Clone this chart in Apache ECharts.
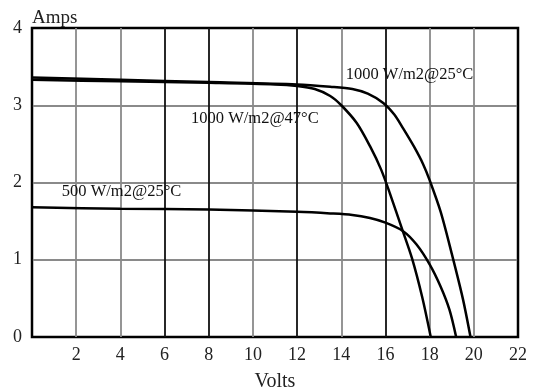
<!DOCTYPE html>
<html>
<head>
<meta charset="utf-8">
<script src="https://cdn.jsdelivr.net/npm/echarts@6/dist/echarts.min.js"></script>
<style>
  html, body { margin: 0; padding: 0; background: #fff; }
  #chart { width: 533px; height: 390px; }
</style>
</head>
<body>
<div id="chart"></div>
<script>
// I-V curves, [volts, amps]
var curve25 = [
  [0, 3.36], [4, 3.33], [8, 3.30], [12, 3.27], [13.5, 3.24], [14.5, 3.21],
  [15.2, 3.15], [15.9, 3.03], [16.4, 2.88], [16.8, 2.70], [17.3, 2.46],
  [17.7, 2.24], [18.0, 2.03], [18.5, 1.62], [19.0, 1.08], [19.5, 0.5], [19.85, 0]
];
var curve47 = [
  [0, 3.33], [4, 3.31], [8, 3.29], [11, 3.27], [12, 3.25], [12.8, 3.21],
  [13.5, 3.12], [14.0, 3.0], [14.7, 2.77], [15.3, 2.47], [15.8, 2.17],
  [16.2, 1.86], [16.75, 1.40], [17.2, 1.02], [17.66, 0.52], [18.05, 0]
];
var curve500 = [
  [0, 1.68], [4, 1.66], [8, 1.65], [12, 1.62], [13.5, 1.6], [14.5, 1.58],
  [15.3, 1.54], [16, 1.48], [16.8, 1.37], [17.4, 1.2], [18.0, 0.94],
  [18.5, 0.65], [18.9, 0.35], [19.2, 0]
];
var seriesNames = ["1000 W/m2@25°C", "1000 W/m2@47°C", "500 W/m2@25°C"];
// where each curve's caption starts, [volts, amps]
var captionAt = [[14.2, 3.39], [7.2, 2.83], [1.35, 1.88]];

var serif = "Liberation Serif";
var chart = echarts.init(document.getElementById("chart"));

function makeSeries(name, data, at) {
  return {
    name: name,
    type: "line",
    data: data,
    smooth: 0.3,
    symbol: "none",
    lineStyle: { color: "#000", width: 2.5 },
    markPoint: {
      symbol: "circle",
      symbolSize: 0,
      data: [{ coord: at }],
      label: {
        show: true,
        position: "right",
        distance: 0,
        formatter: name,
        color: "#111",
        fontFamily: serif,
        fontSize: 16.5
      }
    }
  };
}

var option = {
  animation: false,
  backgroundColor: "#fff",
  grid: {
    left: 32,
    right: 15,
    top: 28,
    bottom: 53,
    outerBoundsMode: "none",
    show: true,
    borderColor: "#000",
    borderWidth: 2.5
  },
  xAxis: {
    type: "value",
    min: 0,
    max: 22,
    interval: 2,
    name: "Volts",
    nameLocation: "middle",
    nameGap: 35,
    nameTextStyle: { fontFamily: serif, fontSize: 20, color: "#222" },
    axisLine: { show: false },
    axisTick: { show: false },
    axisLabel: {
      showMinLabel: false,
      margin: 9,
      fontFamily: serif,
      fontSize: 18,
      color: "#222"
    },
    splitLine: {
      show: true,
      lineStyle: {
        width: 1.8,
        color: ["#000", "#8a8a8a", "#8a8a8a", "#111", "#111", "#8a8a8a", "#111", "#8a8a8a", "#111", "#8a8a8a", "#8a8a8a", "#000"]
      }
    }
  },
  yAxis: {
    type: "value",
    min: 0,
    max: 4,
    interval: 1,
    name: "Amps",
    nameLocation: "end",
    nameGap: 0,
    nameTextStyle: { fontFamily: serif, fontSize: 19, color: "#222", align: "left" },
    axisLine: { show: false },
    axisTick: { show: false },
    axisLabel: { margin: 10, fontFamily: serif, fontSize: 18, color: "#222" },
    splitLine: {
      show: true,
      lineStyle: { width: 2, color: ["#000", "#8a8a8a", "#8a8a8a", "#8a8a8a", "#000"] }
    }
  },
  series: [
    makeSeries(seriesNames[0], curve25, captionAt[0]),
    makeSeries(seriesNames[1], curve47, captionAt[1]),
    makeSeries(seriesNames[2], curve500, captionAt[2])
  ]
};
chart.setOption(option);
</script>
</body>
</html>
